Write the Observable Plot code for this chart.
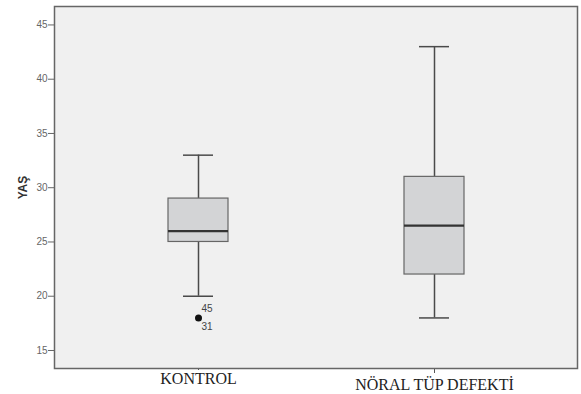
<!DOCTYPE html>
<html>
<head>
<meta charset="utf-8">
<script src="https://cdn.jsdelivr.net/npm/d3@7"></script>
<script src="https://cdn.jsdelivr.net/npm/@observablehq/plot@0.6"></script>
<style>
  html, body { margin: 0; padding: 0; background: #ffffff; }
  #chart svg { display: block; }
</style>
</head>
<body>
<div id="chart"></div>
<script>
// Data (box plot summaries of age, YAŞ)
const groups = ["KONTROL", "NÖRAL TÜP DEFEKTİ"];
const lowWhisker = [20, 18];
const q1 = [25, 22];
const median = [26, 26.5];
const q3 = [29, 31];
const highWhisker = [33, 43];
const outlierGroup = ["KONTROL"];
const outlierValue = [18];
const outlierLabelsAbove = ["45"];
const outlierLabelsBelow = ["31"];
const yTicks = [15, 20, 25, 30, 35, 40, 45];
const yLabel = "YAŞ";

const boxes = groups.map((g, i) => ({
  group: g, lo: lowWhisker[i], q1: q1[i], med: median[i], q3: q3[i], hi: highWhisker[i]
}));
const outliers = outlierGroup.map((g, i) => ({
  group: g, value: outlierValue[i], above: outlierLabelsAbove[i], below: outlierLabelsBelow[i]
}));

const stroke = "#4a4a4a";

const chart = Plot.plot({
  width: 581,
  height: 394,
  marginLeft: 54,
  marginRight: 4,
  marginTop: 6,
  marginBottom: 26,
  style: { background: "#ffffff", fontFamily: "'Liberation Sans', Arial, sans-serif" },
  x: { type: "band", domain: groups, paddingInner: 0.746, paddingOuter: 0.481 },
  y: { domain: [13.34, 46.7] },
  marks: [
    Plot.frame({ fill: "#f0f0f0", stroke: null }),
    // whiskers
    Plot.ruleX(boxes, { x: "group", y1: "lo", y2: "q1", stroke, strokeWidth: 1.5 }),
    Plot.ruleX(boxes, { x: "group", y1: "q3", y2: "hi", stroke, strokeWidth: 1.5 }),
    // whisker caps
    Plot.tickY(boxes, { x: "group", y: "lo", stroke, strokeWidth: 1.5, insetLeft: 15, insetRight: 15 }),
    Plot.tickY(boxes, { x: "group", y: "hi", stroke, strokeWidth: 1.5, insetLeft: 15, insetRight: 15 }),
    // boxes
    Plot.barY(boxes, { x: "group", y1: "q1", y2: "q3", fill: "#d3d4d6", stroke: "#666666", strokeWidth: 1.2 }),
    // medians
    Plot.tickY(boxes, { x: "group", y: "med", stroke: "#333333", strokeWidth: 2.2 }),
    // outliers
    Plot.dot(outliers, { x: "group", y: "value", r: 3.5, fill: "#111111", stroke: null }),
    Plot.text(outliers, { x: "group", y: "value", text: "above", dx: 3, dy: -9, textAnchor: "start", fontSize: 10, fill: "#444444" }),
    Plot.text(outliers, { x: "group", y: "value", text: "below", dx: 3, dy: 9, textAnchor: "start", fontSize: 10, fill: "#444444" }),
    // y axis
    Plot.axisY({
      ticks: yTicks, tickSize: 6, tickPadding: 1, fontSize: 10, color: "#666666",
      label: null
    }),
    Plot.axisY({
      ticks: [], label: yLabel, labelAnchor: "center", labelArrow: "none", labelOffset: 36,
      fontSize: 12, fontWeight: "bold", color: "#333333"
    }),
    // x axis labels (second one sits a little lower as in the reference)
    Plot.axisX([groups[0]], {
      tickSize: 2, tickPadding: 2, fontSize: 16, fontFamily: "'Liberation Serif', 'Times New Roman', serif",
      color: "#222222", stroke: "#555555", label: null
    }),
    Plot.axisX([groups[1]], {
      tickSize: 5, tickPadding: 5, fontSize: 16, fontFamily: "'Liberation Serif', 'Times New Roman', serif",
      color: "#222222", stroke: "#555555", label: null
    }),
    Plot.frame({ stroke: "#666666", strokeWidth: 1.5 })
  ]
});

document.getElementById("chart").append(chart);
</script>
</body>
</html>
